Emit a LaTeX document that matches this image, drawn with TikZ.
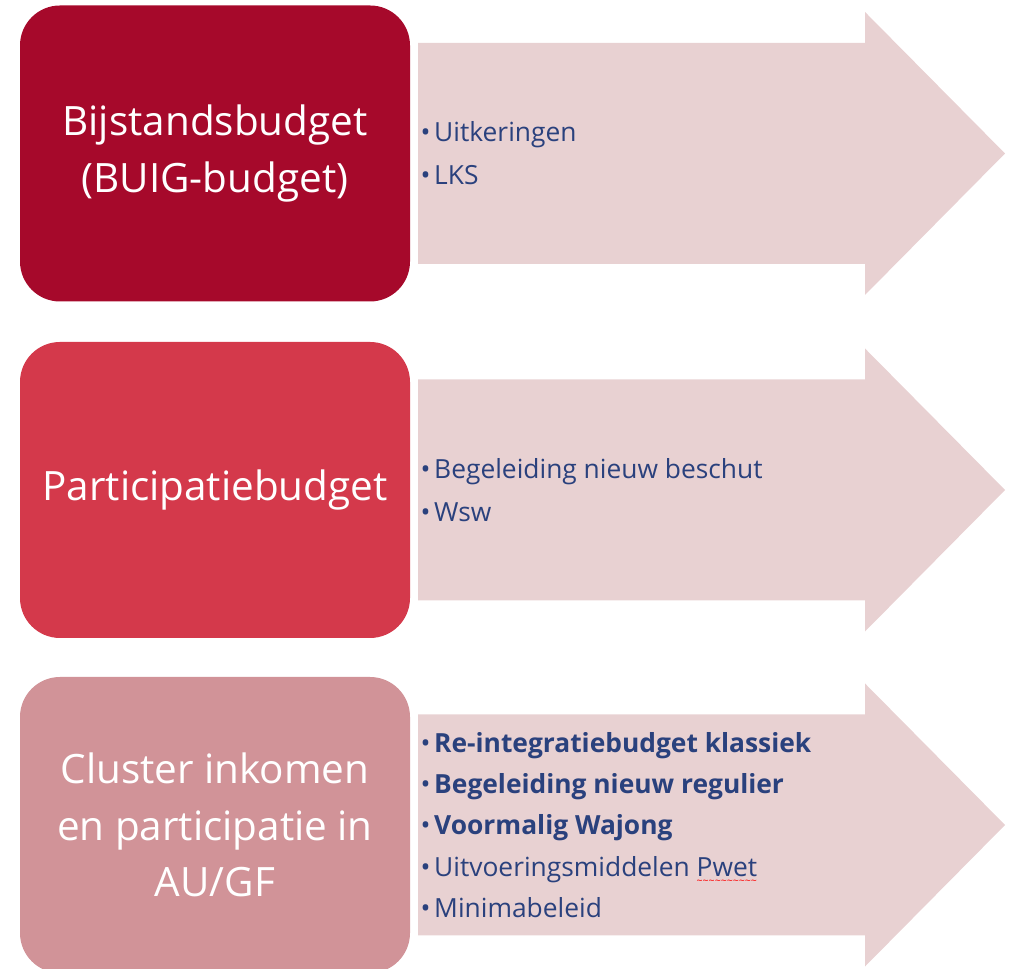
\documentclass[tikz,border=0pt]{standalone}
\usepackage{fontspec}
\setmainfont{Open Sans}
\definecolor{buigred}{HTML}{A6092B}
\definecolor{partred}{HTML}{D4394B}
\definecolor{clusterpink}{HTML}{D19398}
\definecolor{arrowpink}{HTML}{E8D1D2}
\definecolor{itemblue}{HTML}{2A417D}
\newcommand\itm{\makebox[0.27cm][l]{\textbullet}}
\newcommand\spellwave[1]{\setbox0\hbox{#1}\rlap{\lower5pt\hbox to\wd0{\color{red}%
    \leaders\hbox{\fontsize{6}{6}\selectfont\char`\~}\hfil}}\box0}

\begin{document}
\begin{tikzpicture}[
    budget/.style={rounded corners=0.8cm, minimum width=7.8cm, minimum height=5.92cm,
        text=white, align=center, font=\fontsize{23}{32}\selectfont},
    items/.style={anchor=west, align=left, text=itemblue, inner sep=0pt,
        font=\fontsize{15}{24.5}\selectfont}
]
\useasboundingbox (0,0) rectangle (20.24,19.38);
\clip (0,0) rectangle (20.24,19.38);

% arrows behind the lists
\foreach \b/\y in {buig/16.31,part/9.58,clus/2.88}{
    \coordinate (\b-e) at (8.2,\y);
    \fill[arrowpink] ([xshift=0.16cm,yshift=2.21cm]\b-e) -- ++(8.94,0) -- ++(0,0.62)
        -- ([xshift=11.9cm]\b-e) -- ++(-2.8,-2.83) -- ++(0,0.62) -- ++(-8.94,0) -- cycle;
}

\node[budget, fill=buigred] (buig) at (4.3,16.31) {Bijstandsbudget\\(BUIG-budget)};
\node[budget, fill=partred] (part) at (4.3,9.58) {Participatiebudget};
\node[budget, fill=clusterpink] (clus) at (4.3,2.88) {Cluster inkomen\\en participatie in\\AU/GF};

\node[items] (buiglist) at ([xshift=0.2cm]buig.east) {\itm Uitkeringen\\\itm LKS};
\node[items] (partlist) at ([xshift=0.2cm]part.east) {\itm Begeleiding nieuw beschut\\\itm Wsw};
\node[items, font=\fontsize{15}{23.5}\selectfont] (cluslist) at ([xshift=0.2cm]clus.east)
    {\itm\textbf{Re-integratiebudget klassiek}\\
     \itm\textbf{Begeleiding nieuw regulier}\\
     \itm\textbf{Voormalig Wajong}\\
     \itm Uitvoeringsmiddelen \spellwave{Pwet}\\
     \itm Minimabeleid};
\end{tikzpicture}
\end{document}
